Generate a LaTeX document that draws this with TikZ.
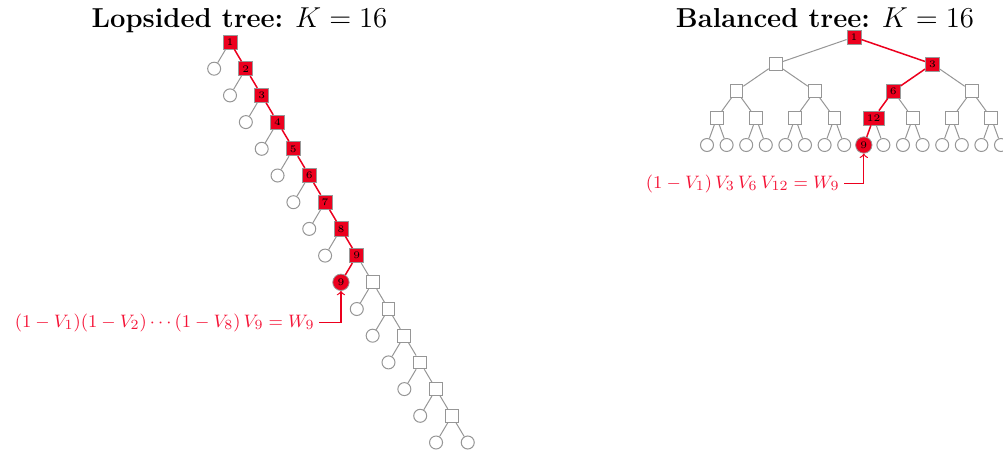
\documentclass[tikz,border=0pt]{standalone}
\usepackage{amsmath}
\definecolor{myred}{RGB}{236,0,30}
\definecolor{labred}{RGB}{245,20,55}
\definecolor{edgegray}{RGB}{150,150,150}
\tikzset{
  wsq/.style={draw=edgegray,line width=0.5pt,fill=white,rectangle,minimum size=6.4pt,inner sep=0pt},
  rsq/.style={draw=gray!80,line width=0.4pt,fill=myred,rectangle,minimum size=6.4pt,inner sep=1.8pt,font=\fontsize{5}{5}\selectfont},
  wci/.style={draw=edgegray,line width=0.5pt,fill=white,circle,minimum size=6.5pt,inner sep=0pt},
  rci/.style={draw=gray!80,line width=0.4pt,fill=myred,circle,minimum size=8.2pt,inner sep=0pt,font=\fontsize{5}{5}\selectfont},
  gedge/.style={draw=edgegray,line width=0.5pt},
  redge/.style={draw=myred,line width=0.75pt},
  lbl/.style={text=labred,font=\fontsize{9.4}{11}\selectfont,inner sep=2pt},
  ttl/.style={font=\fontsize{13.7}{16}\selectfont,anchor=base,inner sep=0pt},
}
\begin{document}
\begin{tikzpicture}[x=0.5pt,y=-0.5pt]
\useasboundingbox (0,0) rectangle (1003,451);
% titles
\node[ttl] (t1) at (239.5,27) {\textbf{Lopsided tree:} $K=16$};
\node[ttl] (t2) at (825,27) {\textbf{Balanced tree:} $K=16$};
% ---------- lopsided tree ----------
\foreach \i in {1,...,15}{
  \pgfmathsetmacro\x{230+(\i-1)*15.85}
  \pgfmathsetmacro\y{42+(\i-1)*26.7}
  \ifnum\i<10
    \node[rsq] (L\i) at (\x,\y) {\i};
  \else
    \node[wsq] (L\i) at (\x,\y) {};
  \fi
  \ifnum\i=9
    \node[rci] (C\i) at (\x-15.85,\y+26.7) {9};
  \else
    \node[wci] (C\i) at (\x-15.85,\y+26.7) {};
  \fi
}
\node[wci] (C16) at (230+14*15.85+15.85,42+14*26.7+26.7) {};
\foreach \i in {1,...,14}{
  \pgfmathtruncatemacro\nx{\i+1}
  \ifnum\i<9
    \draw[redge] (L\i) -- (L\nx);
  \else
    \draw[gedge] (L\i) -- (L\nx);
  \fi
}
\foreach \i in {1,...,15}{
  \ifnum\i=9
    \draw[redge] (L\i) -- (C\i);
  \else
    \draw[gedge] (L\i) -- (C\i);
  \fi
}
\draw[gedge] (L15) -- (C16);
\node[lbl,anchor=east] (lab1) at (319,322.5) {$(1-V_1)(1-V_2)\cdots(1-V_8)\,V_9=W_9$};
\draw[redge,line width=0.6pt,->] (lab1.east) -| (C9.south);
% ---------- balanced tree ----------
\foreach \d in {0,1,2,3}{
  \pgfmathtruncatemacro\n{2^\d}
  \pgfmathtruncatemacro\last{\n-1}
  \foreach \j in {0,...,\last}{
    \pgfmathtruncatemacro\k{\n+\j}
    \pgfmathsetmacro\x{854+(\j-(\n-1)/2)*19.6*2^(4-\d)}
    \pgfmathsetmacro\y{37+\d*27}
    \pgfmathtruncatemacro\isred{(\k==1)||(\k==3)||(\k==6)||(\k==12)}
    \ifnum\isred=1
      \node[rsq] (R\k) at (\x,\y) {\k};
    \else
      \node[wsq] (R\k) at (\x,\y) {};
    \fi
  }
}
\foreach \j in {0,...,15}{
  \pgfmathtruncatemacro\k{16+\j}
  \pgfmathsetmacro\x{854+(\j-7.5)*19.6}
  \ifnum\k=24
    \node[rci] (R\k) at (\x,145) {9};
  \else
    \node[wci] (R\k) at (\x,145) {};
  \fi
}
\foreach \k in {2,...,31}{
  \pgfmathtruncatemacro\p{\k/2}
  \pgfmathtruncatemacro\isred{(\k==3)||(\k==6)||(\k==12)||(\k==24)}
  \ifnum\isred=1
    \draw[redge] (R\p) -- (R\k);
  \else
    \draw[gedge] (R\p) -- (R\k);
  \fi
}
\node[lbl,anchor=east] (lab2) at (844,183.5) {$(1-V_1)\,V_3\,V_6\,V_{12}=W_9$};
\draw[redge,line width=0.6pt,->] (lab2.east) -| (R24.south);
\end{tikzpicture}
\end{document}
